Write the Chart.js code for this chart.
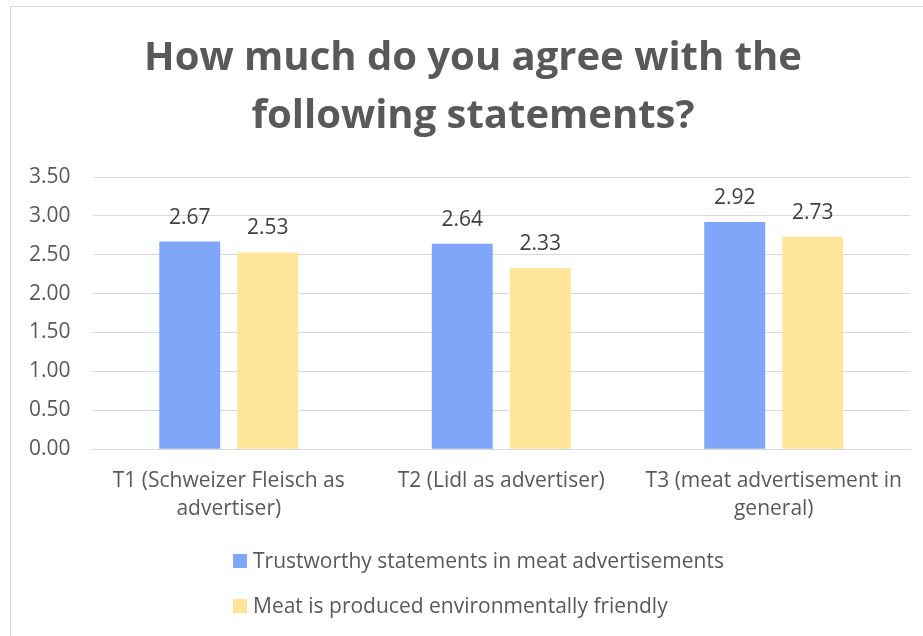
<!DOCTYPE html>
<html>
<head>
<meta charset="utf-8">
<script src="https://cdn.jsdelivr.net/npm/chart.js@4.4.1/dist/chart.umd.min.js"></script>
<style>
    html, body { margin: 0; padding: 0; background: #fff; overflow: hidden; }
    #wrap { position: relative; width: 923px; height: 636px; }
    #frame { position: absolute; left: 10px; top: 6px; width: 1000px; height: 1000px; border: 1px solid #d9d9d9; }
    #chart { position: absolute; left: 0; top: 0; }
</style>
</head>
<body>
<div id="wrap">
    <div id="frame"></div>
    <canvas id="chart" width="923" height="636"></canvas>
</div>
<script>
// Chart data
const categories = [
    ['T1 (Schweizer Fleisch as', 'advertiser)'],
    ['T2 (Lidl as advertiser)'],
    ['T3 (meat advertisement in', 'general)']
];
const seriesNames = [
    'Trustworthy statements in meat advertisements',
    'Meat is produced environmentally friendly'
];
const trustworthyValues = [2.67, 2.64, 2.92];
const environmentValues = [2.53, 2.33, 2.73];
const yTickValues = [0, 0.5, 1, 1.5, 2, 2.5, 3, 3.5];

const titleLines = ['How much do you agree with the', 'following statements?'];

const FONT = '"Open Sans", Lato, sans-serif';
const colors = {
    blue: '#7fa6f9',
    yellow: '#ffe599',
    text: '#595959',
    label: '#404040',
    grid: '#d9d9d9'
};

// title: centred on the chart frame (which runs past the right edge), not the canvas
const frameTitle = {
    id: 'frameTitle',
    afterDraw(chart) {
        const ctx = chart.ctx;
        ctx.save();
        ctx.font = 'bold 40px ' + FONT;
        ctx.fillStyle = colors.text;
        ctx.textAlign = 'center';
        ctx.textBaseline = 'middle';
        titleLines.forEach((line, i) => {
            ctx.fillText(line, 473, 59 + i * 58);
        });
        ctx.restore();
    }
};

// value labels above bars
const barLabels = {
    id: 'barLabels',
    afterDatasetsDraw(chart) {
        const ctx = chart.ctx;
        ctx.save();
        ctx.font = '21px ' + FONT;
        ctx.fillStyle = colors.label;
        ctx.textAlign = 'center';
        ctx.textBaseline = 'alphabetic';
        chart.data.datasets.forEach((ds, i) => {
            chart.getDatasetMeta(i).data.forEach((bar, j) => {
                ctx.fillText(ds.data[j].toFixed(2), bar.x, bar.y - 18);
            });
        });
        ctx.restore();
    }
};

// stacked, left-aligned legend under the axis
const stackedLegend = {
    id: 'stackedLegend',
    afterDraw(chart) {
        const ctx = chart.ctx;
        ctx.save();
        ctx.font = '21px ' + FONT;
        ctx.textBaseline = 'middle';
        ctx.textAlign = 'left';
        const x = 233;
        chart.data.datasets.forEach((ds, i) => {
            const y = 561 + i * 45;
            ctx.fillStyle = ds.backgroundColor;
            ctx.fillRect(x, y - 7, 14, 14);
            ctx.fillStyle = colors.text;
            ctx.fillText(ds.label, x + 20, y + 1);
        });
        ctx.restore();
    }
};

new Chart(document.getElementById('chart'), {
    type: 'bar',
    data: {
        labels: categories,
        datasets: [{
            label: seriesNames[0],
            data: trustworthyValues,
            backgroundColor: colors.blue,
            categoryPercentage: 0.573,
            barPercentage: 0.78
        }, {
            label: seriesNames[1],
            data: environmentValues,
            backgroundColor: colors.yellow,
            categoryPercentage: 0.573,
            barPercentage: 0.78
        }]
    },
    options: {
        responsive: false,
        animation: false,
        layout: {
            padding: { left: 7, right: 13, top: 177, bottom: 103 }
        },
        plugins: {
            legend: { display: false },
            tooltip: { enabled: false },
            title: { display: false }
        },
        scales: {
            x: {
                grid: { display: false },
                border: { display: true, color: colors.grid, width: 1 },
                ticks: {
                    color: colors.text,
                    font: { family: FONT, size: 21, lineHeight: 1.33 },
                    maxRotation: 0,
                    padding: 10
                }
            },
            y: {
                min: 0,
                max: 3.5,
                afterBuildTicks(axis) {
                    axis.ticks = yTickValues.map(v => ({ value: v }));
                },
                grid: { color: colors.grid, drawTicks: false },
                border: { display: false },
                ticks: {
                    color: colors.text,
                    font: { family: FONT, size: 21 },
                    padding: 22,
                    callback: v => Number(v).toFixed(2)
                }
            }
        }
    },
    plugins: [frameTitle, barLabels, stackedLegend]
});
</script>
</body>
</html>
